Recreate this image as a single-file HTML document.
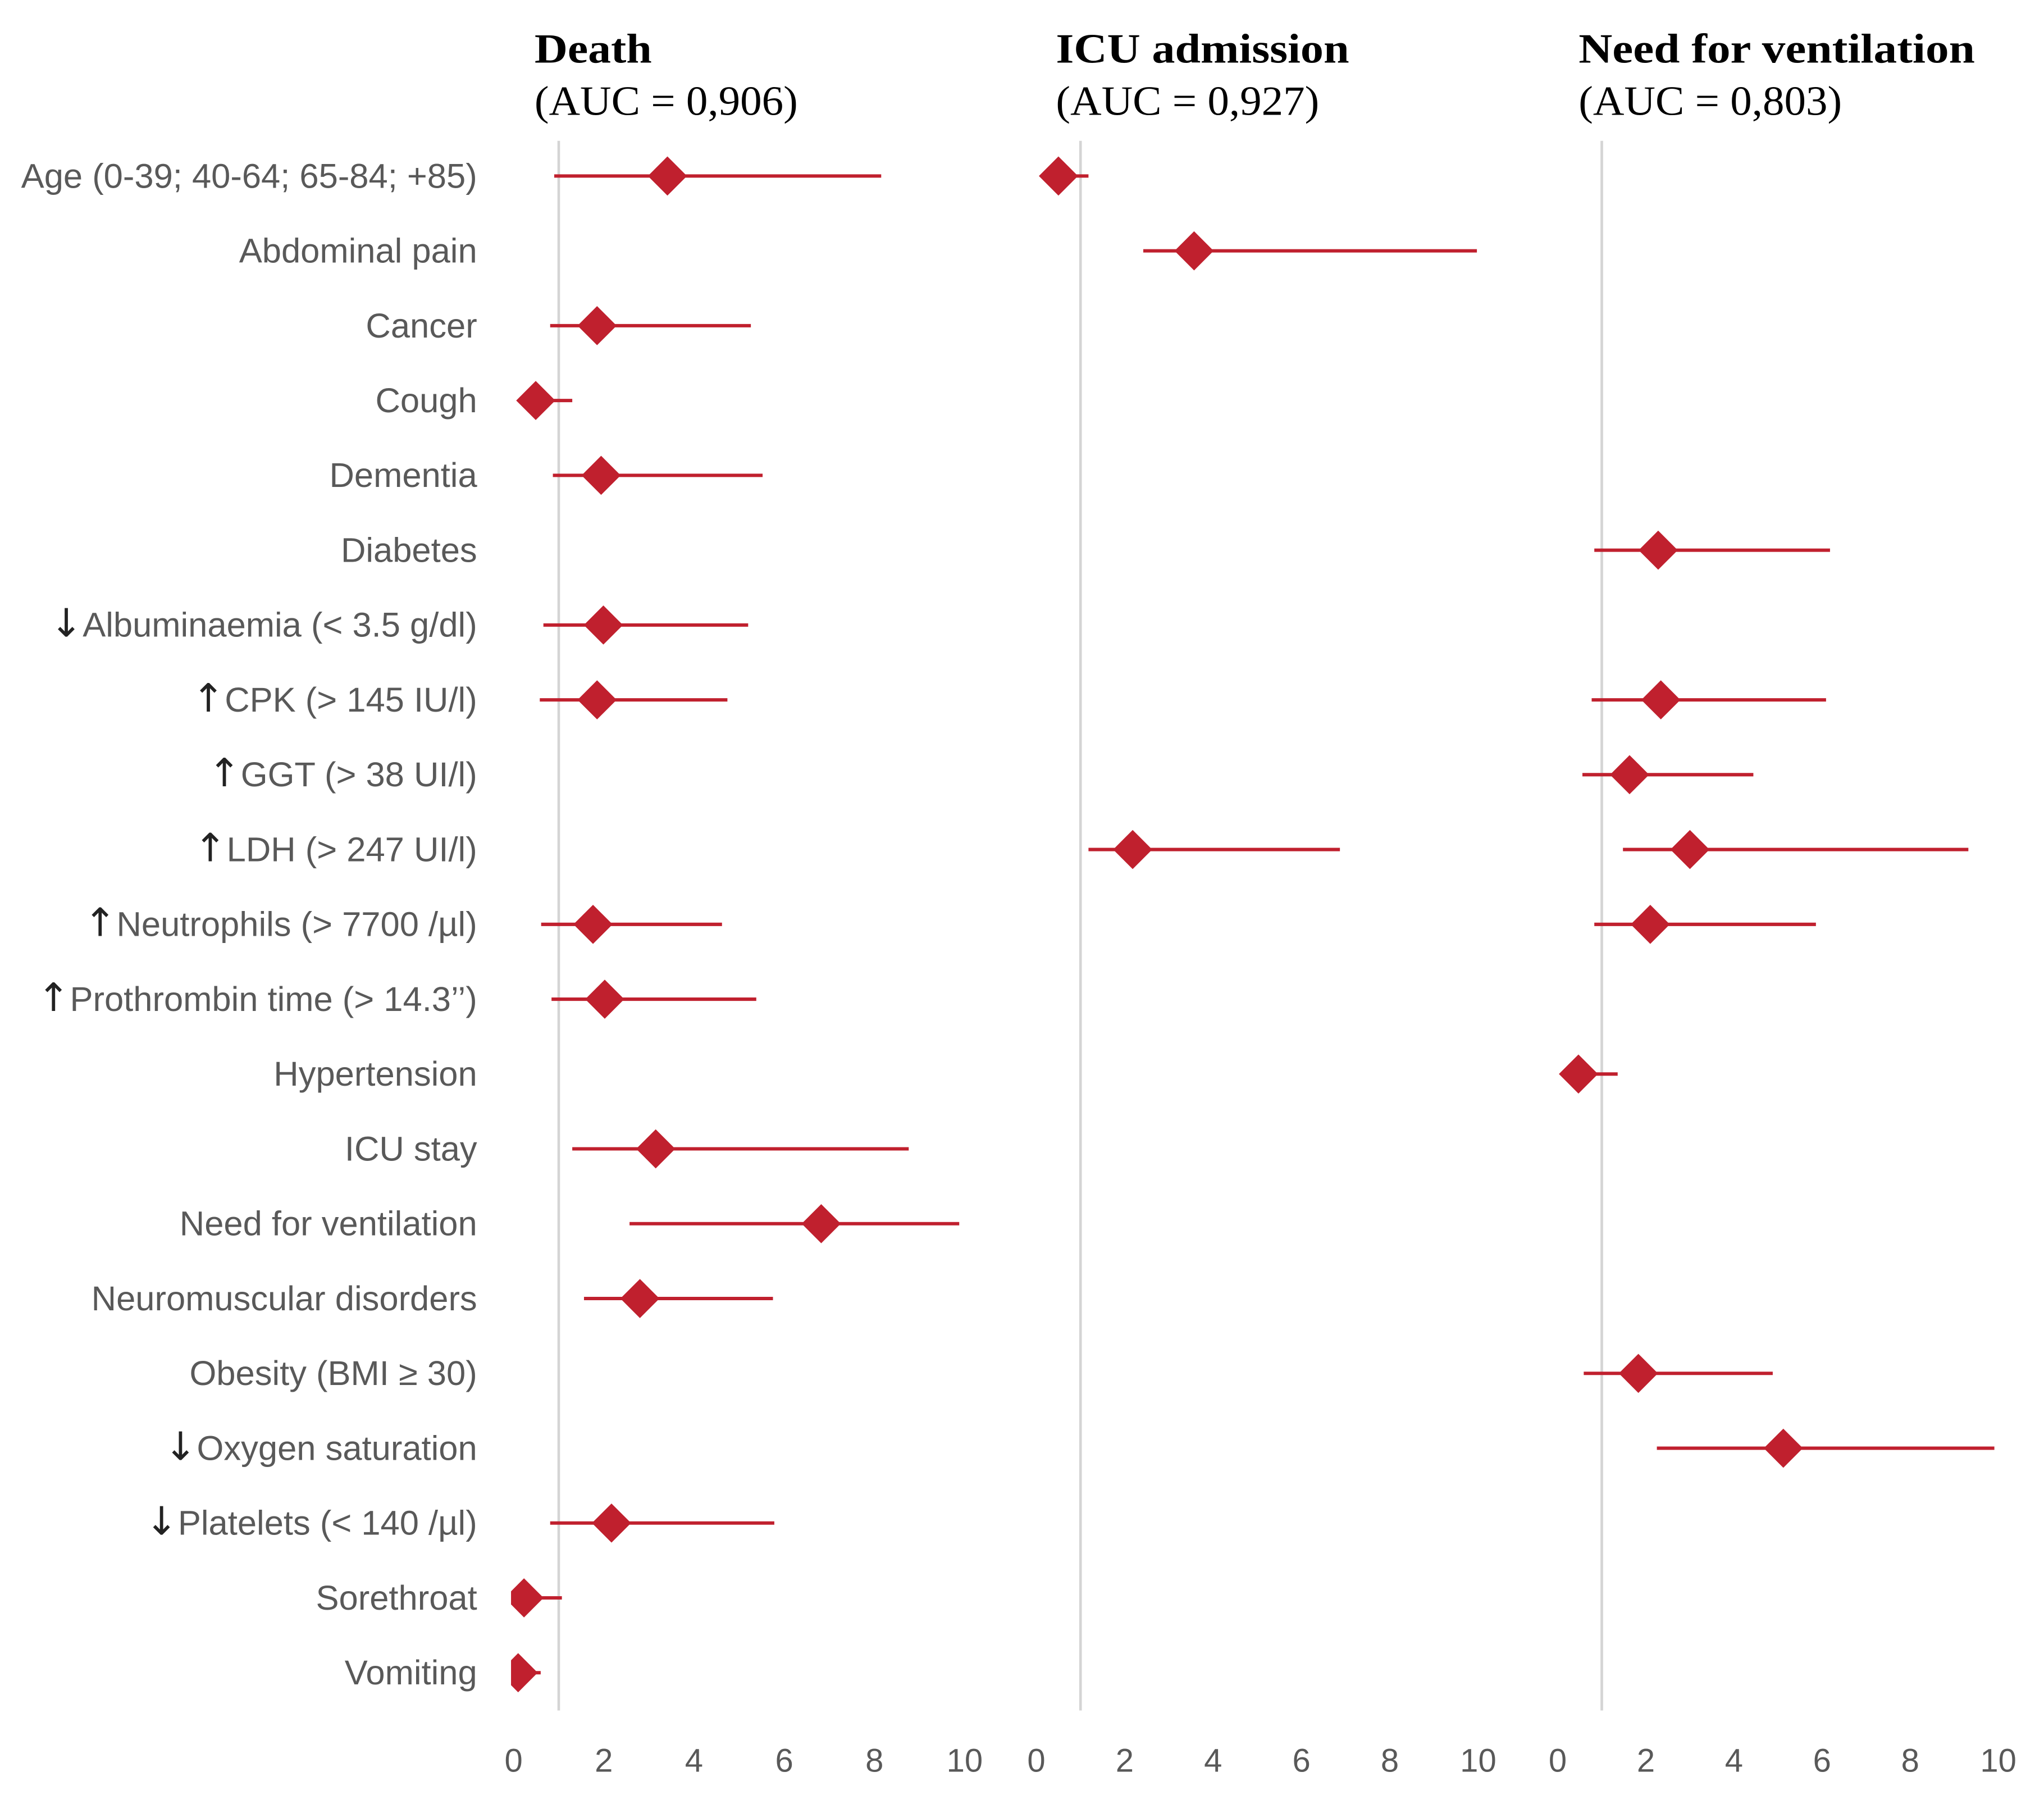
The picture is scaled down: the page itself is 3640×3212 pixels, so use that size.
<!DOCTYPE html>
<html><head><meta charset="utf-8"><style>
html,body{margin:0;padding:0;background:#fff}
svg{display:block}
.lbl{font-family:"Liberation Sans",sans-serif;font-size:26.5px;fill:#595959}
.arr{font-family:"DejaVu Sans",sans-serif;font-size:30px;fill:#222}
.tick{font-family:"Liberation Sans",sans-serif;font-size:25px;fill:#595959}
.ttl{font-family:"Liberation Serif",serif;font-size:32px;fill:#000}
</style></head><body>
<svg id="chart" width="3640" height="3212" viewBox="0 0 1568 1383.7" xmlns="http://www.w3.org/2000/svg">
<g id="labels"></g>
<g id="panels"></g>
</svg>
<script>
const rows=["Age (0-39; 40-64; 65-84; +85)","Abdominal pain","Cancer","Cough","Dementia","Diabetes","↓Albuminaemia (< 3.5 g/dl)","↑CPK (> 145 IU/l)","↑GGT (> 38 UI/l)","↑LDH (> 247 UI/l)","↑Neutrophils (> 7700 /µl)","↑Prothrombin time (> 14.3’’)","Hypertension","ICU stay","Need for ventilation","Neuromuscular disorders","Obesity (BMI ≥ 30)","↓Oxygen saturation","↓Platelets (< 140 /µl)","Sorethroat","Vomiting"];
const ticks=[0,2,4,6,8,10];
const panelTitles=["Death","ICU admission","Need for ventilation"];
const panelAUC=["(AUC = 0,906)","(AUC = 0,927)","(AUC = 0,803)"];
// [rowIndex, OR, lower, upper]
const deathData=[[0,3.41,0.9,8.15],[2,1.85,0.81,5.26],[3,0.49,0.4,1.3],[4,1.94,0.87,5.52],[6,1.99,0.66,5.2],[7,1.85,0.58,4.74],[10,1.76,0.61,4.62],[11,2.02,0.84,5.38],[13,3.15,1.3,8.76],[14,6.82,2.57,9.88],[15,2.8,1.56,5.75],[18,2.17,0.81,5.78],[19,0.23,0.2,1.07],[20,0.1,0.1,0.6]];
const icuData=[[0,0.5,0.45,1.18],[1,3.57,2.42,9.97],[9,2.18,1.18,6.87]];
const ventData=[[5,2.28,0.83,6.18],[7,2.34,0.77,6.09],[8,1.63,0.56,4.44],[9,3.0,1.48,9.32],[10,2.1,0.83,5.86],[12,0.47,0.45,1.36],[16,1.83,0.59,4.88],[17,5.12,2.25,9.91]];

const NS="http://www.w3.org/2000/svg";
function mk(tag,attrs,parent){const e=document.createElementNS(NS,tag);for(const k in attrs)e.setAttribute(k,attrs[k]);parent.appendChild(e);return e;}
const yRow=i=>135+i*57.4;
const panels=[{x0:394,u:34.6,tx:410,data:deathData,name:"death",tw:[90,202]},{x0:795,u:33.9,tx:810,data:icuData,name:"icu",tw:[225,202]},{x0:1195,u:33.8,tx:1211,data:ventData,name:"ventilation",tw:[304,202]}];
const lg=document.getElementById('labels');
rows.forEach((r,i)=>{const t=mk('text',{x:366,y:yRow(i)+9,'text-anchor':'end',class:'lbl'},lg);
 if(r[0]==='↓'||r[0]==='↑'){const a=mk('tspan',{class:'arr'},t);a.textContent=r[0];const b=mk('tspan',{},t);b.textContent=r.slice(1);}
 else t.textContent=r;
 
 });
const pg=document.getElementById('panels');
panels.forEach((p,pi)=>{
 const xs=v=>p.x0+p.u*v;
 const g=mk('g',{},pg);
 
 
 const cp=mk('clipPath',{id:'cp'+pi},g);mk('rect',{x:xs(0)-2,y:90,width:p.u*10.4,height:1240},cp);
 const t1=mk('text',{x:p.tx,y:48,class:'ttl','font-weight':'bold',textLength:p.tw[0],lengthAdjust:'spacingAndGlyphs'},g);t1.textContent=panelTitles[pi];
 
 
 const t2=mk('text',{x:p.tx,y:88,class:'ttl',textLength:p.tw[1],lengthAdjust:'spacingAndGlyphs'},g);t2.textContent=panelAUC[pi];
 
 
 const ref=mk('line',{x1:xs(1),x2:xs(1),y1:108,y2:1312,stroke:'#d4d4d4','stroke-width':2},g);
 
 
 ticks.forEach(tv=>{const t=mk('text',{x:xs(tv),y:1359,'text-anchor':'middle',class:'tick'},g);t.textContent=tv;
  
  });
 const mg=mk('g',{'clip-path':'url(#cp'+pi+')'},g);
 p.data.forEach(d=>{const y=yRow(d[0]);
  const l=mk('line',{x1:xs(d[2]),x2:xs(d[3]),y1:y,y2:y,stroke:'#c0202e','stroke-width':2.6},mg);
  
  
  const cx=xs(d[1]);
  const dm=mk('polygon',{points:`${cx-15},${y} ${cx},${y-15} ${cx+15},${y} ${cx},${y+15}`,fill:'#c0202e'},mg);
  
  
 });
});
</script>
</body></html>
